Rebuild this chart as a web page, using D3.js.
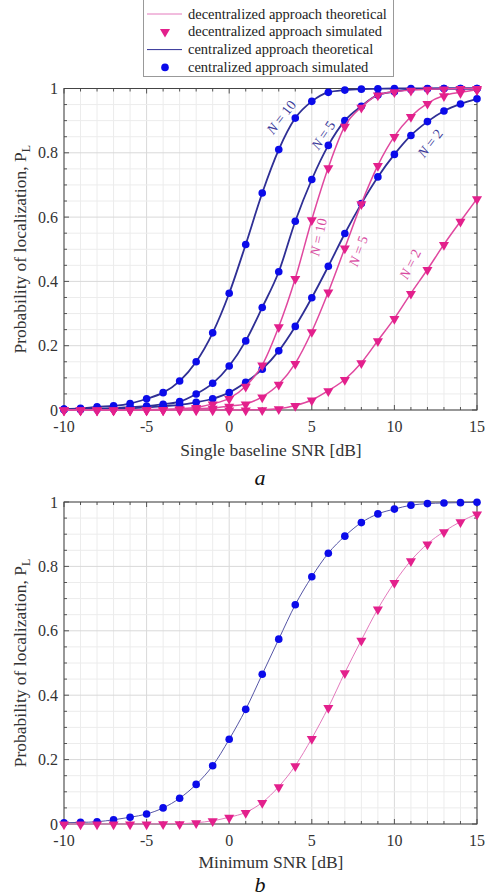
<!DOCTYPE html>
<html>
<head>
<meta charset="utf-8">
<script src="https://cdn.jsdelivr.net/npm/d3@7"></script>
<style>
  body { margin: 0; background: #fff; }
  svg { display: block; }
</style>
</head>
<body>
<svg id="fig" width="488" height="896"></svg>
<script>
// SNR grid shared by both panels [dB]
const snr = [-10, -9, -8, -7, -6, -5, -4, -3, -2, -1, 0, 1, 2, 3, 4, 5, 6, 7, 8, 9, 10, 11, 12, 13, 14, 15];

// Panel a: probability of localization vs single baseline SNR
const centN10 = [0.003, 0.005, 0.010, 0.013, 0.020, 0.035, 0.054, 0.090, 0.150, 0.240, 0.363, 0.515, 0.675, 0.810, 0.908, 0.960, 0.988, 0.995, 0.998, 0.999, 1.000, 1.000, 1.000, 1.000, 1.000, 1.000];
const centN5  = [0.002, 0.003, 0.004, 0.006, 0.009, 0.012, 0.018, 0.026, 0.050, 0.083, 0.137, 0.215, 0.319, 0.430, 0.587, 0.717, 0.823, 0.900, 0.945, 0.980, 0.990, 0.997, 0.999, 1.000, 1.000, 1.000];
const centN2  = [0.001, 0.001, 0.002, 0.003, 0.005, 0.008, 0.012, 0.016, 0.024, 0.035, 0.054, 0.086, 0.127, 0.184, 0.260, 0.349, 0.447, 0.549, 0.642, 0.725, 0.795, 0.854, 0.897, 0.930, 0.952, 0.968];
const decN10  = [0.000, 0.000, 0.000, 0.000, 0.000, 0.001, 0.002, 0.004, 0.008, 0.019, 0.036, 0.074, 0.140, 0.259, 0.409, 0.592, 0.754, 0.883, 0.942, 0.980, 0.990, 0.995, 0.998, 0.999, 1.000, 1.000];
const decN5   = [0.000, 0.000, 0.000, 0.000, 0.000, 0.000, 0.001, 0.002, 0.004, 0.006, 0.012, 0.019, 0.041, 0.080, 0.145, 0.244, 0.367, 0.504, 0.642, 0.761, 0.851, 0.913, 0.954, 0.978, 0.988, 0.996];
const decN2   = [0.000, 0.000, 0.000, 0.000, 0.000, 0.000, 0.000, 0.000, 0.000, 0.000, 0.000, 0.0005, 0.001, 0.004, 0.014, 0.031, 0.060, 0.095, 0.147, 0.216, 0.285, 0.363, 0.437, 0.515, 0.587, 0.657];

// Panel b: probability of localization vs minimum SNR
const centMin = [0.004, 0.005, 0.007, 0.013, 0.021, 0.031, 0.050, 0.080, 0.123, 0.181, 0.263, 0.356, 0.465, 0.574, 0.681, 0.768, 0.841, 0.894, 0.936, 0.963, 0.978, 0.990, 0.995, 0.997, 0.998, 0.999];
const decMin  = [0.000, 0.000, 0.000, 0.000, 0.000, 0.000, 0.001, 0.001, 0.004, 0.010, 0.021, 0.036, 0.067, 0.116, 0.181, 0.266, 0.362, 0.470, 0.571, 0.668, 0.750, 0.818, 0.870, 0.908, 0.939, 0.963];

const xTicks = [-10, -5, 0, 5, 10, 15];
const yTicks = [0, 0.2, 0.4, 0.6, 0.8, 1];
const yTickText = ["0", "0.2", "0.4", "0.6", "0.8", "1"];
const legendItems = ["decentralized approach theoretical", "decentralized approach simulated",
                     "centralized approach theoretical", "centralized approach simulated"];
const nLabels = ["10", "5", "2"];

const FONT = "Liberation Serif";
const COL = {
  centMark: "#0b0bea", decMark: "#e3208c",
  centLine: "#2f2f95", decLine: "#e0489f",
  centLineB: "#5656a6", decLineB: "#e47abd"
};

const svg = d3.select("#fig");
const x = d3.scaleLinear().domain([-10, 15]).range([64, 477]);

function makePanel(y0, y1) {
  const y = d3.scaleLinear().domain([0, 1]).range([y1, y0]);
  const g = svg.append("g");
  const [xl, xr] = x.range();

  // grid: 1 dB and 0.05 steps, heavier at labelled ticks
  const xMinor = d3.range(-10, 15.001, 1);
  const yMinor = d3.range(0, 1.0001, 0.05);
  g.selectAll(".vg").data(xMinor).join("line")
    .attr("x1", d => x(d)).attr("x2", d => x(d)).attr("y1", y0).attr("y2", y1)
    .attr("stroke", d => d % 5 === 0 ? "#d9d9d9" : "#ececec").attr("stroke-width", 1);
  g.selectAll(".hg").data(yMinor).join("line")
    .attr("y1", d => y(d)).attr("y2", d => y(d)).attr("x1", xl).attr("x2", xr)
    .attr("stroke", (d, i) => i % 4 === 0 ? "#d9d9d9" : "#ececec").attr("stroke-width", 1);

  // inward ticks on all four sides
  const tk = g.append("g").attr("stroke", "#555").attr("stroke-width", 1);
  xMinor.forEach(v => {
    const L = v % 5 === 0 ? 5 : 3;
    tk.append("line").attr("x1", x(v)).attr("x2", x(v)).attr("y1", y1).attr("y2", y1 - L);
    tk.append("line").attr("x1", x(v)).attr("x2", x(v)).attr("y1", y0).attr("y2", y0 + L);
  });
  yMinor.forEach((v, i) => {
    const L = i % 4 === 0 ? 5 : 3;
    tk.append("line").attr("y1", y(v)).attr("y2", y(v)).attr("x1", xl).attr("x2", xl + L);
    tk.append("line").attr("y1", y(v)).attr("y2", y(v)).attr("x1", xr).attr("x2", xr - L);
  });

  g.append("rect").attr("x", xl).attr("y", y0).attr("width", xr - xl).attr("height", y1 - y0)
    .attr("fill", "none").attr("stroke", "#444").attr("stroke-width", 1);

  // tick labels
  g.selectAll(".xt").data(xTicks).join("text")
    .attr("x", d => x(d)).attr("y", y1 + 22)
    .attr("text-anchor", "middle").attr("font-family", FONT).attr("font-size", 16)
    .attr("fill", "#333").text(d => d);
  g.selectAll(".yt").data(yTicks).join("text")
    .attr("x", xl - 6).attr("y", d => y(d)).attr("dy", "0.35em")
    .attr("text-anchor", "end").attr("font-family", FONT).attr("font-size", 16)
    .attr("fill", "#333").text((d, i) => yTickText[i]);

  // y axis title with subscript
  const yt = g.append("text")
    .attr("transform", `translate(26,${(y0 + y1) / 2}) rotate(-90)`)
    .attr("text-anchor", "middle").attr("font-family", FONT).attr("font-size", 17.5)
    .attr("fill", "#333");
  yt.append("tspan").text("Probability of localization, P");
  yt.append("tspan").attr("font-size", 12).attr("dy", 4).text("L");

  return { g, y };
}

function drawSeries(p, values, kind, lineColor, lineWidth) {
  const pts = snr.map((s, i) => [s, values[i]]);
  const line = d3.line().x(d => x(d[0])).y(d => p.y(d[1])).curve(d3.curveMonotoneX);
  p.g.append("path").datum(pts).attr("d", line)
    .attr("fill", "none").attr("stroke", lineColor).attr("stroke-width", lineWidth);
  if (kind === "cent") {
    p.g.append("g").selectAll("circle").data(pts).join("circle")
      .attr("cx", d => x(d[0])).attr("cy", d => p.y(d[1])).attr("r", 3.8)
      .attr("fill", COL.centMark);
  } else {
    const tri = d3.symbol().type(d3.symbolTriangle).size(44);
    p.g.append("g").selectAll("path").data(pts).join("path")
      .attr("d", tri)
      .attr("transform", d => `translate(${x(d[0])},${p.y(d[1]) + 0.5}) rotate(180)`)
      .attr("fill", COL.decMark);
  }
}

function nLabel(p, cx, cy, angle, n, color) {
  const t = p.g.append("text")
    .attr("transform", `translate(${cx},${cy}) rotate(${angle})`)
    .attr("text-anchor", "middle").attr("dominant-baseline", "central")
    .attr("font-family", FONT).attr("font-size", 14).attr("fill", color);
  t.append("tspan").attr("font-style", "italic").text("N");
  t.append("tspan").text(" = " + n);
}

// ---- panel a ----
const pa = makePanel(88.5, 410);
drawSeries(pa, centN2, "cent", COL.centLine, 1.8);
drawSeries(pa, centN5, "cent", COL.centLine, 1.8);
drawSeries(pa, centN10, "cent", COL.centLine, 1.8);
drawSeries(pa, decN2, "dec", COL.decLine, 1.5);
drawSeries(pa, decN5, "dec", COL.decLine, 1.5);
drawSeries(pa, decN10, "dec", COL.decLine, 1.5);

nLabel(pa, 281, 117, -52, nLabels[0], "#3a3a9a");
nLabel(pa, 323, 135, -56, nLabels[1], "#3a3a9a");
nLabel(pa, 430, 143, -52, nLabels[2], "#3a3a9a");
nLabel(pa, 318, 237, -78, nLabels[0], "#d84aa0");
nLabel(pa, 358, 251, -70, nLabels[1], "#d84aa0");
nLabel(pa, 410, 264, -63, nLabels[2], "#d84aa0");

pa.g.append("text").attr("x", 271).attr("y", 456).attr("text-anchor", "middle")
  .attr("font-family", FONT).attr("font-size", 17.5).attr("fill", "#333")
  .text("Single baseline SNR [dB]");
svg.append("text").attr("x", 260).attr("y", 485).attr("text-anchor", "middle")
  .attr("font-family", FONT).attr("font-size", 22).attr("font-style", "italic")
  .attr("fill", "#111").text("a");

// ---- panel b ----
const pb = makePanel(502, 824);
drawSeries(pb, centMin, "cent", COL.centLineB, 1);
drawSeries(pb, decMin, "dec", COL.decLineB, 1);

pb.g.append("text").attr("x", 271).attr("y", 868).attr("text-anchor", "middle")
  .attr("font-family", FONT).attr("font-size", 17.5).attr("fill", "#333")
  .text("Minimum SNR [dB]");
svg.append("text").attr("x", 260).attr("y", 892).attr("text-anchor", "middle")
  .attr("font-family", FONT).attr("font-size", 22).attr("font-style", "italic")
  .attr("fill", "#111").text("b");

// ---- legend ----
const lg = svg.append("g");
lg.append("rect").attr("x", 143.5).attr("y", -0.5).attr("width", 250).attr("height", 77)
  .attr("fill", "#fff").attr("stroke", "#999").attr("stroke-width", 1);
legendItems.forEach((label, i) => {
  const by = 18.5 + i * 17.8;
  const cy = by - 4.5;
  const isDec = i < 2;
  if (i % 2 === 0) {
    lg.append("line").attr("x1", 147).attr("x2", 182).attr("y1", cy).attr("y2", cy)
      .attr("stroke", isDec ? COL.decLineB : COL.centLine).attr("stroke-width", 1);
  } else if (isDec) {
    lg.append("path").attr("d", d3.symbol().type(d3.symbolTriangle).size(44))
      .attr("transform", `translate(165,${cy}) rotate(180)`).attr("fill", COL.decMark);
  } else {
    lg.append("circle").attr("cx", 165).attr("cy", cy).attr("r", 3.8).attr("fill", COL.centMark);
  }
  lg.append("text").attr("x", 188).attr("y", by)
    .attr("font-family", FONT).attr("font-size", 14.5).attr("fill", "#222").text(label);
});
</script>
</body>
</html>
